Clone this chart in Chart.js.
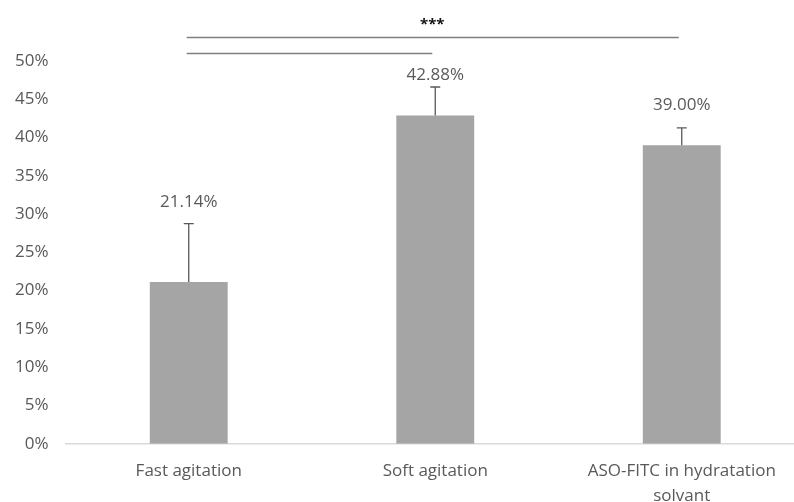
<!DOCTYPE html>
<html>
<head>
<meta charset="utf-8">
<script src="https://cdn.jsdelivr.net/npm/chart.js@4.4.1/dist/chart.umd.min.js"></script>
<style>
  html, body { margin: 0; padding: 0; background: #fff; overflow: hidden; }
  #wrap { width: 794px; height: 502px; overflow: hidden; position: relative; }
  #box { width: 827px; height: 526px; position: absolute; left: -14px; top: 0; }
</style>
</head>
<body>
<div id="wrap"><div id="box"><canvas id="chart"></canvas></div></div>
<script>
// values (fractions of 1)
const categories = [['Fast agitation'], ['Soft agitation'], ['ASO-FITC in hydratation', 'solvant']];
const means = [0.2114, 0.4288, 0.3900];
const errors = [0.0762, 0.0372, 0.0225];
const valueLabels = ['21.14%', '42.88%', '39.00%'];
const labelLevels = [0.315, 0.482, 0.4425];   // where the value labels sit (y units)
const yTicks = [0, 0.05, 0.10, 0.15, 0.20, 0.25, 0.30, 0.35, 0.40, 0.45, 0.50];

// significance brackets: [from category, to category, level]
const brackets = [[0, 1, 0.5104], [0, 2, 0.531]];
const starsText = '***';
const starsLevel = 0.548;

const textColor = '#595959';
const fontFamily = "'Open Sans', 'Noto Sans', sans-serif";

const overlay = {
    id: 'overlay',
    afterDatasetsDraw(chart) {
        const ctx = chart.ctx;
        const x = chart.scales.x;
        const y = chart.scales.y;
        const meta = chart.getDatasetMeta(0);
        ctx.save();

        // error bars (upper only)
        ctx.strokeStyle = '#595959';
        ctx.lineWidth = 1.3;
        meta.data.forEach((bar, i) => {
            const top = y.getPixelForValue(means[i] + errors[i]);
            const base = y.getPixelForValue(means[i]);
            ctx.beginPath();
            ctx.moveTo(bar.x, base);
            ctx.lineTo(bar.x, top);
            ctx.moveTo(bar.x - 5, top);
            ctx.lineTo(bar.x + 5, top);
            ctx.stroke();
        });

        // value labels
        ctx.fillStyle = textColor;
        ctx.font = '17px ' + fontFamily;
        ctx.textAlign = 'center';
        ctx.textBaseline = 'middle';
        meta.data.forEach((bar, i) => {
            ctx.fillText(valueLabels[i], bar.x, y.getPixelForValue(labelLevels[i]));
        });

        // significance lines
        ctx.strokeStyle = '#7f7f7f';
        ctx.lineWidth = 1.6;
        brackets.forEach(b => {
            const py = Math.round(y.getPixelForValue(b[2])) + 0.5;
            ctx.beginPath();
            ctx.moveTo(x.getPixelForValue(b[0]) - 2, py);
            ctx.lineTo(x.getPixelForValue(b[1]) - 3, py);
            ctx.stroke();
        });
        ctx.fillStyle = '#111';
        ctx.font = 'bold 15px ' + fontFamily;
        ctx.fillText(starsText, x.getPixelForValue(1) - 3, y.getPixelForValue(starsLevel));
        ctx.restore();
    }
};

new Chart(document.getElementById('chart'), {
    type: 'bar',
    data: {
        labels: categories,
        datasets: [{
            data: means,
            backgroundColor: '#a5a5a5',
            borderWidth: 0,
            barPercentage: 0.316,
            categoryPercentage: 1
        }]
    },
    options: {
        responsive: true,
        maintainAspectRatio: false,
        animation: false,
        events: [],
        layout: { padding: { top: 61, right: 8, left: 12, bottom: 3 } },
        plugins: {
            legend: { display: false },
            tooltip: { enabled: false }
        },
        scales: {
            x: {
                grid: { display: false, drawTicks: false },
                border: { color: '#d9d9d9', width: 1.5 },
                ticks: {
                    color: textColor,
                    font: { family: fontFamily, size: 17, lineHeight: 1.45 },
                    padding: 15,
                    maxRotation: 0
                }
            },
            y: {
                min: 0,
                max: 0.5,
                afterBuildTicks: axis => { axis.ticks = yTicks.map(v => ({ value: v })); },
                grid: { display: false, drawTicks: false },
                border: { display: false },
                ticks: {
                    color: textColor,
                    font: { family: fontFamily, size: 17 },
                    padding: 17,
                    callback: v => Math.round(v * 100) + '%'
                }
            }
        }
    },
    plugins: [overlay]
});
</script>
</body>
</html>
